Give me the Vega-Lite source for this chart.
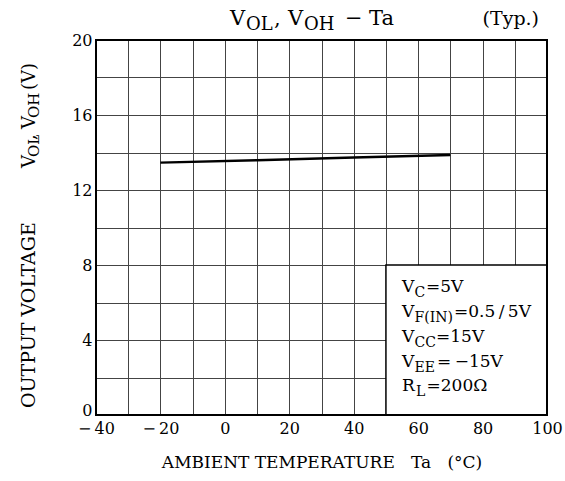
{
  "$schema": "https://vega.github.io/schema/vega-lite/v6.json",
  "width": 451,
  "height": 375,
  "autosize": {"type": "none"},
  "padding": {"left": 96, "top": 40, "right": 18, "bottom": 66},
  "background": "white",
  "datasets": {
    "curve": [
      {"Ta": -20, "V": 13.46},
      {"Ta": 10, "V": 13.59},
      {"Ta": 40, "V": 13.73},
      {"Ta": 70, "V": 13.87}
    ],
    "one": [{}]
  },
  "data": {"name": "one"},
  "config": {
    "view": {"stroke": null},
    "text": {"font": "DejaVu Serif", "color": "black", "align": "left", "baseline": "alphabetic", "fontSize": 17},
    "axis": {
      "labelFont": "DejaVu Serif",
      "labelFontSize": 16,
      "labelColor": "black",
      "labelFlush": false,
      "labelOverlap": false,
      "titleFont": "DejaVu Serif",
      "titleColor": "black",
      "titleFontWeight": "normal",
      "grid": true,
      "gridColor": "#444444",
      "gridWidth": 1,
      "gridOpacity": 1,
      "ticks": false,
      "domain": false,
      "tickCount": 40
    }
  },
  "layer": [
    {
      "mark": {"type": "rect", "fill": "white", "stroke": "black", "strokeWidth": 1.5},
      "encoding": {
        "x": {
          "datum": 50,
          "type": "quantitative",
          "scale": {"domain": [-40, 100], "nice": false, "zero": false},
          "axis": {
            "values": [-40, -30, -20, -10, 0, 10, 20, 30, 40, 50, 60, 70, 80, 90, 100],
            "tickCount": 40,
            "labelFlush": false,
            "labelExpr": "datum.value % 20 == 0 ? (datum.value < 0 ? '−\u2009' + abs(datum.value) : '' + datum.value) : ''",
            "labelPadding": 5,
            "title": "AMBIENT TEMPERATURE\u00a0\u00a0\u00a0Ta\u00a0\u00a0\u00a0(°C)",
            "titleFontSize": 17,
            "titleBaseline": "alphabetic",
            "titleY": 52
          }
        },
        "x2": {"datum": 100},
        "y": {
          "datum": 0,
          "type": "quantitative",
          "scale": {"domain": [0, 20], "nice": false, "zero": false},
          "axis": {
            "values": [0, 2, 4, 6, 8, 10, 12, 14, 16, 18, 20],
            "tickCount": 40,
            "labelFlush": false,
            "labelBaseline": {"condition": {"test": "datum.value == 0", "value": "alphabetic"}, "value": "middle"},
            "labelExpr": "datum.value % 4 == 0 ? '' + datum.value : ''",
            "labelPadding": 4,
            "title": null
          }
        },
        "y2": {"datum": 8}
      }
    },
    {
      "data": {"name": "curve"},
      "mark": {"type": "line", "color": "black", "strokeWidth": 2.5},
      "encoding": {
        "x": {"field": "Ta", "type": "quantitative"},
        "y": {"field": "V", "type": "quantitative"}
      }
    },
    {
      "mark": {"type": "rect", "filled": false, "stroke": "black", "strokeWidth": 2},
      "encoding": {"x": {"datum": -40}, "x2": {"datum": 100}, "y": {"datum": 0}, "y2": {"datum": 20}}
    },

    {"mark": {"type": "text", "fontSize": 21}, "encoding": {"x": {"datum": 1.6}, "y": {"datum": 20.8}, "text": {"value": "V"}}},
    {"mark": {"type": "text", "fontSize": 18, "dx": 16, "dy": 5}, "encoding": {"x": {"datum": 1.6}, "y": {"datum": 20.8}, "text": {"value": "OL"}}},
    {"mark": {"type": "text", "fontSize": 21, "dx": 44}, "encoding": {"x": {"datum": 1.6}, "y": {"datum": 20.8}, "text": {"value": ","}}},
    {"mark": {"type": "text", "fontSize": 21, "dx": 58}, "encoding": {"x": {"datum": 1.6}, "y": {"datum": 20.8}, "text": {"value": "V"}}},
    {"mark": {"type": "text", "fontSize": 18, "dx": 74, "dy": 5}, "encoding": {"x": {"datum": 1.6}, "y": {"datum": 20.8}, "text": {"value": "OH"}}},
    {"mark": {"type": "text", "fontSize": 21, "dx": 115}, "encoding": {"x": {"datum": 1.6}, "y": {"datum": 20.8}, "text": {"value": "−"}}},
    {"mark": {"type": "text", "fontSize": 21, "dx": 139}, "encoding": {"x": {"datum": 1.6}, "y": {"datum": 20.8}, "text": {"value": "Ta"}}},
    {"mark": {"type": "text", "fontSize": 19, "align": "right", "dx": 309}, "encoding": {"x": {"datum": 1.6}, "y": {"datum": 20.8}, "text": {"value": "(Typ.)"}}},

    {"mark": {"type": "text"}, "encoding": {"x": {"datum": 55}, "y": {"datum": 6.56}, "text": {"value": "V"}}},
    {"mark": {"type": "text", "fontSize": 14, "dx": 12.5, "dy": 5}, "encoding": {"x": {"datum": 55}, "y": {"datum": 6.56}, "text": {"value": "C"}}},
    {"mark": {"type": "text", "dx": 24}, "encoding": {"x": {"datum": 55}, "y": {"datum": 6.56}, "text": {"value": "=5V"}}},

    {"mark": {"type": "text"}, "encoding": {"x": {"datum": 55}, "y": {"datum": 5.227}, "text": {"value": "V"}}},
    {"mark": {"type": "text", "fontSize": 14, "dx": 12.5, "dy": 5}, "encoding": {"x": {"datum": 55}, "y": {"datum": 5.227}, "text": {"value": "F(IN)"}}},
    {"mark": {"type": "text", "dx": 52}, "encoding": {"x": {"datum": 55}, "y": {"datum": 5.227}, "text": {"value": "=0.5\u2009/\u20095V"}}},

    {"mark": {"type": "text"}, "encoding": {"x": {"datum": 55}, "y": {"datum": 3.893}, "text": {"value": "V"}}},
    {"mark": {"type": "text", "fontSize": 14, "dx": 12.5, "dy": 5}, "encoding": {"x": {"datum": 55}, "y": {"datum": 3.893}, "text": {"value": "CC"}}},
    {"mark": {"type": "text", "dx": 34}, "encoding": {"x": {"datum": 55}, "y": {"datum": 3.893}, "text": {"value": "=15V"}}},

    {"mark": {"type": "text"}, "encoding": {"x": {"datum": 55}, "y": {"datum": 2.56}, "text": {"value": "V"}}},
    {"mark": {"type": "text", "fontSize": 14, "dx": 12.5, "dy": 5}, "encoding": {"x": {"datum": 55}, "y": {"datum": 2.56}, "text": {"value": "EE"}}},
    {"mark": {"type": "text", "dx": 35}, "encoding": {"x": {"datum": 55}, "y": {"datum": 2.56}, "text": {"value": "=\u2009−15V"}}},

    {"mark": {"type": "text"}, "encoding": {"x": {"datum": 55}, "y": {"datum": 1.28}, "text": {"value": "R"}}},
    {"mark": {"type": "text", "fontSize": 14, "dx": 14, "dy": 5}, "encoding": {"x": {"datum": 55}, "y": {"datum": 1.28}, "text": {"value": "L"}}},
    {"mark": {"type": "text", "dx": 24.5}, "encoding": {"x": {"datum": 55}, "y": {"datum": 1.28}, "text": {"value": "=200Ω"}}},

    {"mark": {"type": "text", "angle": 270, "fontSize": 19}, "encoding": {"x": {"datum": -58.94}, "y": {"datum": 0.373}, "text": {"value": "OUTPUT VOLTAGE"}}},
    {"mark": {"type": "text", "angle": 270, "fontSize": 18, "dx": 240}, "encoding": {"x": {"datum": -58.94}, "y": {"datum": 0.373}, "text": {"value": "V"}}},
    {"mark": {"type": "text", "angle": 270, "fontSize": 15, "dx": 251, "dy": 4}, "encoding": {"x": {"datum": -58.94}, "y": {"datum": 0.373}, "text": {"value": "OL"}}},
    {"mark": {"type": "text", "angle": 270, "fontSize": 18, "dx": 268}, "encoding": {"x": {"datum": -58.94}, "y": {"datum": 0.373}, "text": {"value": ","}}},
    {"mark": {"type": "text", "angle": 270, "fontSize": 18, "dx": 279}, "encoding": {"x": {"datum": -58.94}, "y": {"datum": 0.373}, "text": {"value": "V"}}},
    {"mark": {"type": "text", "angle": 270, "fontSize": 15, "dx": 290, "dy": 4}, "encoding": {"x": {"datum": -58.94}, "y": {"datum": 0.373}, "text": {"value": "OH"}}},
    {"mark": {"type": "text", "angle": 270, "fontSize": 18, "dx": 318}, "encoding": {"x": {"datum": -58.94}, "y": {"datum": 0.373}, "text": {"value": "(V)"}}}
  ]
}
